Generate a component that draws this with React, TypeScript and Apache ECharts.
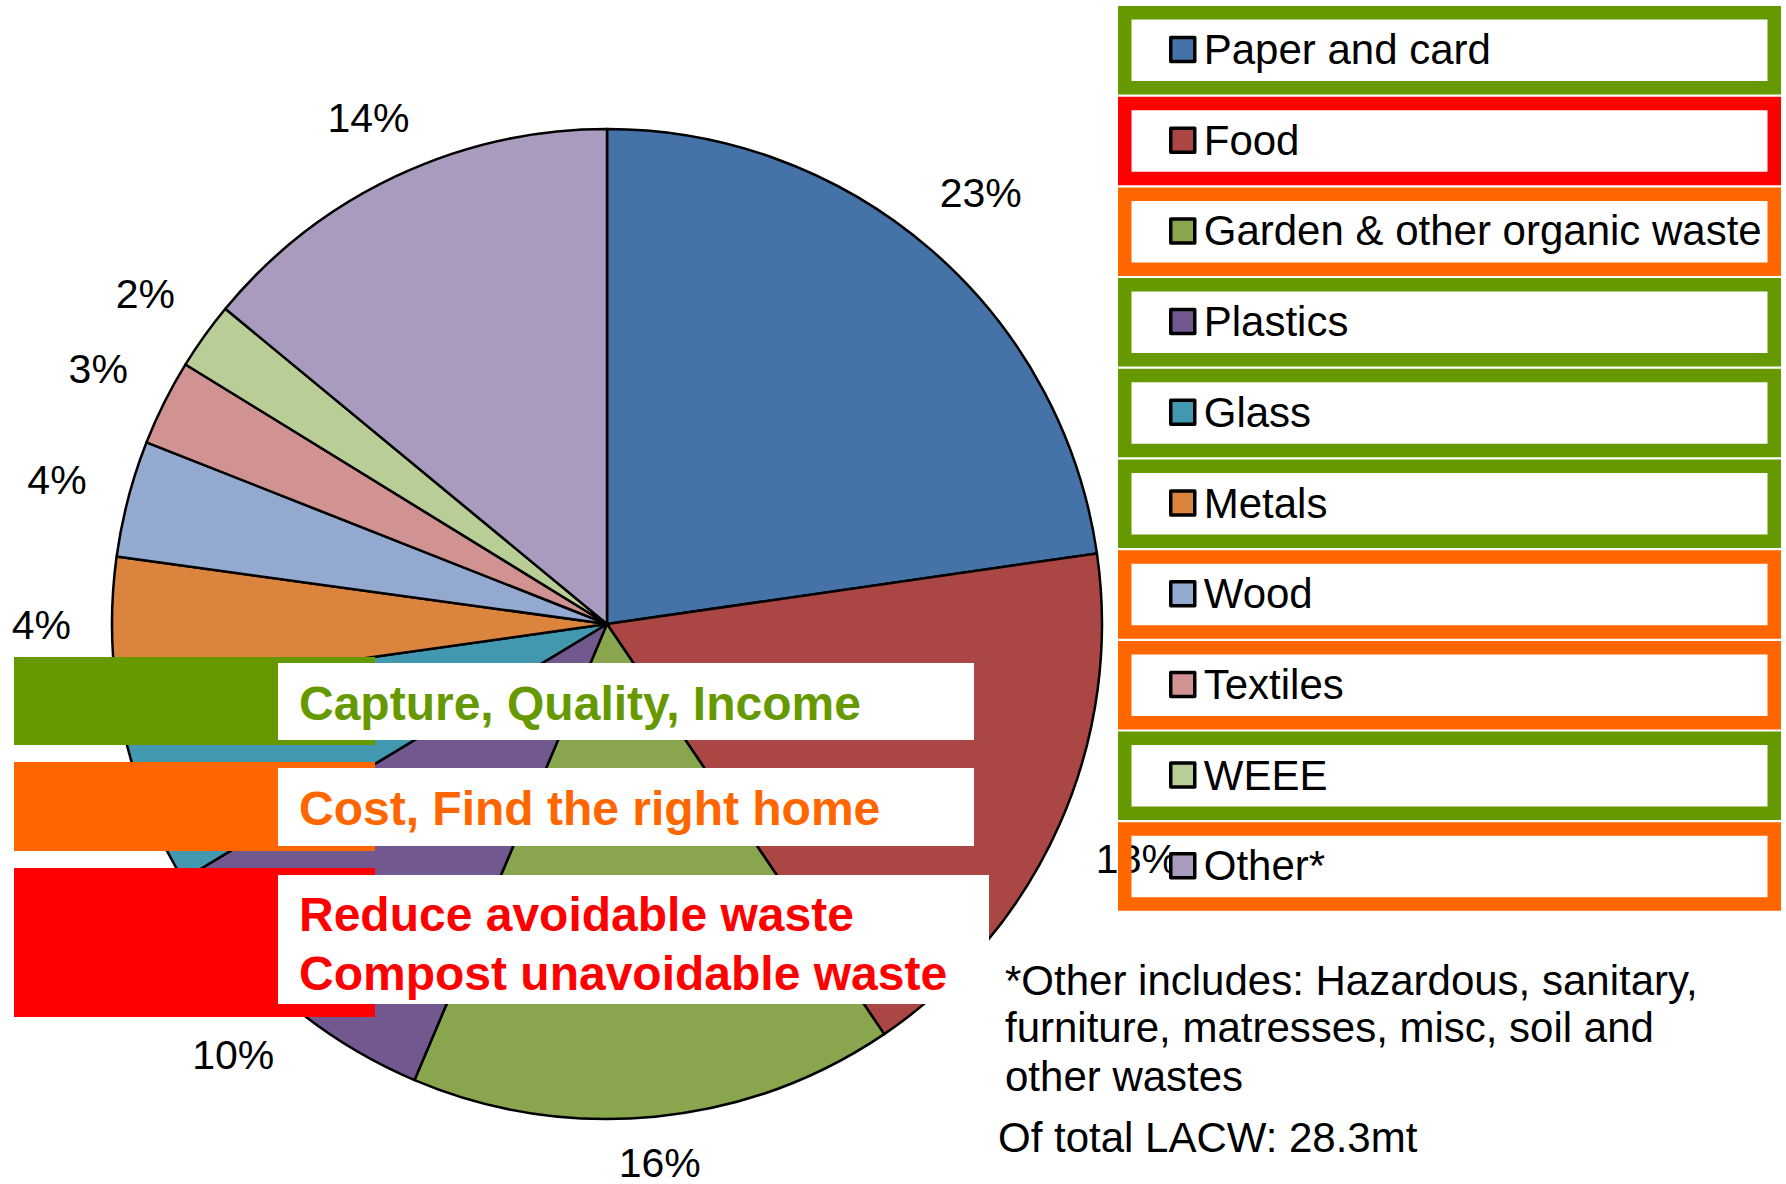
import React, { useEffect, useRef } from 'react';
import * as echarts from 'echarts';

// ---- data (shares in %) ----
const categories = [
  'Paper and card',
  'Food',
  'Garden & other organic waste',
  'Plastics',
  'Glass',
  'Metals',
  'Wood',
  'Textiles',
  'WEEE',
  'Other*',
];
const shares = [22.7, 17.8, 15.8, 10.0, 6.4, 4.4, 3.8, 2.8, 2.2, 14.0];
const sliceColors = [
  '#4572A7', '#AA4643', '#89A54E', '#71588F', '#4198AF',
  '#DB843D', '#93A9CF', '#D19392', '#B9CD96', '#A99BBD',
];
const GREEN = '#669900';
const ORANGE = '#FF6600';
const RED = '#FF0000';
const legendFrameColors = [GREEN, RED, ORANGE, GREEN, GREEN, GREEN, ORANGE, ORANGE, GREEN, ORANGE];
const actionLines = [
  ['Capture, Quality, Income'],
  ['Cost, Find the right home'],
  ['Reduce avoidable waste', 'Compost unavoidable waste'],
];
const actionColors = [GREEN, ORANGE, RED];
const footnoteLines = [
  '*Other includes: Hazardous, sanitary,',
  'furniture, matresses, misc, soil and',
  'other wastes',
];
const totalNote = 'Of total LACW: 28.3mt';

const FONT = '"Liberation Sans", Arial, sans-serif';

const W = 1786;
const H = 1184;
const PIE_CX = 607;
const PIE_CY = 624;
const PIE_R = 495;

export default function App() {
  const ref = useRef<HTMLDivElement>(null);

  useEffect(() => {
    document.body.style.margin = '0';
    if (!ref.current) return;
    const chart = echarts.init(ref.current, undefined, { renderer: 'svg' });

    const total = shares.reduce((a, b) => a + b, 0);
    const midAngles: number[] = [];
    let acc = 0;
    shares.forEach((v) => {
      midAngles.push(((acc + v / 2) / total) * Math.PI * 2);
      acc += v;
    });

    const graphics: any[] = [];
    // legend frames
    const frameX = 1118, frameW = 663, frameH = 88.5, frameTop = 6, pitch = 90.7, bw = 13.5;
    legendFrameColors.forEach((c, i) => {
      graphics.push({
        type: 'rect',
        z: 5,
        shape: {
          x: frameX + bw / 2,
          y: frameTop + i * pitch + bw / 2,
          width: frameW - bw,
          height: frameH - bw,
        },
        style: { fill: 'none', stroke: c, lineWidth: bw },
        silent: true,
      });
    });

    // action boxes
    const solids = [
      { y: 657, h: 88 },
      { y: 762, h: 89 },
      { y: 868, h: 149 },
    ];
    const whites = [
      { y: 663, h: 77, w: 696 },
      { y: 768, h: 78, w: 696 },
      { y: 875, h: 129, w: 711 },
    ];
    const textMids = [[703], [808.5], [914, 973]];
    actionColors.forEach((c, i) => {
      graphics.push({
        type: 'rect', z: 5, silent: true,
        shape: { x: 14, y: solids[i].y, width: 361, height: solids[i].h },
        style: { fill: c },
      });
      graphics.push({
        type: 'rect', z: 6, silent: true,
        shape: { x: 278, y: whites[i].y, width: whites[i].w, height: whites[i].h },
        style: { fill: '#FFFFFF' },
      });
      actionLines[i].forEach((t, j) => {
        graphics.push({
          type: 'text', z: 7, silent: true,
          x: 299, y: textMids[i][j],
          style: {
            text: t, fill: c, font: `bold 48px ${FONT}`,
            textAlign: 'left', textVerticalAlign: 'middle',
          },
        });
      });
    });

    // footnote
    const footMids = [980.5, 1027.6, 1076.6];
    footnoteLines.forEach((t, i) => {
      graphics.push({
        type: 'text', z: 7, silent: true,
        x: 1005, y: footMids[i],
        style: { text: t, fill: '#000', font: `42px ${FONT}`, textAlign: 'left', textVerticalAlign: 'middle' },
      });
    });
    graphics.push({
      type: 'text', z: 7, silent: true,
      x: 998, y: 1137,
      style: { text: totalNote, fill: '#000', font: `42px ${FONT}`, textAlign: 'left', textVerticalAlign: 'middle' },
    });

    chart.setOption({
      animation: false,
      backgroundColor: '#FFFFFF',
      color: sliceColors,
      legend: {
        orient: 'vertical',
        left: 1169,
        top: 25.5,
        padding: 0,
        z: 10,
        itemWidth: 24,
        itemHeight: 24,
        itemGap: 42.7,
        icon: 'rect',
        selectedMode: false,
        itemStyle: { borderColor: '#000', borderWidth: 3.5 },
        textStyle: {
          fontSize: 42,
          lineHeight: 48,
          color: '#000',
          fontFamily: FONT,
          padding: [0, 0, 0, 4],
        },
        data: categories,
      },
      series: [
        {
          type: 'pie',
          center: [PIE_CX, PIE_CY],
          radius: PIE_R,
          startAngle: 90,
          clockwise: true,
          avoidLabelOverlap: false,
          z: 2,
          itemStyle: { borderColor: '#000', borderWidth: 2.5 },
          label: {
            show: true,
            position: 'outside',
            fontSize: 41,
            fontFamily: FONT,
            color: '#000',
            distanceToLabelLine: 0,
            formatter: (p: any) => Math.round(p.percent) + '%',
          },
          labelLine: { show: false, length: 40, length2: 0 },
          labelLayout: (params: any) => {
            const a = midAngles[params.dataIndex];
            const dx = Math.sin(a);
            const dy = -Math.cos(a);
            const w = params.labelRect.width;
            const h = params.labelRect.height;
            const gap = 41 + 16 * Math.abs(dx * dy);
            const dist = PIE_R + gap + Math.abs(dx) * w / 2;
            const y = Math.min(PIE_CY + dy * dist, H - h / 2 - 1);
            return {
              x: PIE_CX + dx * dist,
              y,
              align: 'center',
              verticalAlign: 'middle',
            };
          },
          data: categories.map((name, i) => ({ name, value: shares[i] })),
        },
      ],
      graphic: { elements: graphics },
    });

    return () => chart.dispose();
  }, []);

  return <div ref={ref} style={{ width: W, height: H }} />;
}
